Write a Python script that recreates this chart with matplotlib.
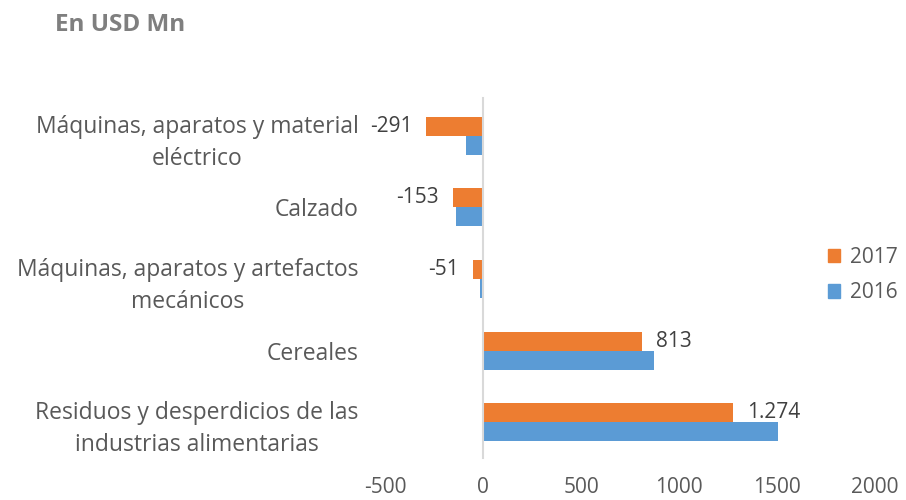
import matplotlib.pyplot as plt
import numpy as np
from matplotlib.patches import Patch

plt.rcParams['font.family'] = ['Open Sans', 'DejaVu Sans']
plt.rcParams['axes.unicode_minus'] = False

categories = [
    "Máquinas, aparatos y material\neléctrico",
    "Calzado",
    "Máquinas, aparatos y artefactos\nmecánicos",
    "Cereales",
    "Residuos y desperdicios de las\nindustrias alimentarias",
]
values_2017 = [-291, -153, -51, 813, 1274]
values_2016 = [-85, -140, -17, 871, 1502]
x_ticks = [-500, 0, 500, 1000, 1500, 2000]

ORANGE = "#ED7D31"
BLUE = "#5B9BD5"
TEXT = "#595959"

fig = plt.figure(figsize=(9.06, 5.0), dpi=100)
ax = fig.add_axes([0.425, 0.084, 0.541, 0.716])

y = np.arange(len(categories))
h = 0.266
bars17 = ax.barh(y - h / 2, values_2017, height=h, color=ORANGE)
ax.barh(y + h / 2, values_2016, height=h, color=BLUE)

labels = [f"{v:,}".replace(",", ".") for v in values_2017]
ax.bar_label(bars17, labels=labels, padding=10, fontsize=15, color="#404040")

ax.set_ylim(len(categories) - 0.5, -0.5)
ax.set_xlim(-500, 2000)
ax.set_xticks(x_ticks)
ax.set_yticks(y)
ax.set_yticklabels(categories)
for lbl in ax.get_yticklabels():
    lbl.set_multialignment("center")
    lbl.set_linespacing(1.45)

ax.tick_params(axis="x", length=0, pad=14, labelsize=15, labelcolor=TEXT)
ax.tick_params(axis="y", length=0, pad=19, labelsize=16.5, labelcolor=TEXT)
for s in ax.spines.values():
    s.set_visible(False)
ax.axvline(0, color="#d9d9d9", lw=1.5, ymin=0, ymax=1.005, clip_on=False)

handles = [Patch(color=ORANGE, label="2017"), Patch(color=BLUE, label="2016")]
leg = fig.legend(handles=handles, loc="center left", bbox_to_anchor=(0.893, 0.45),
                 frameon=False, fontsize=15, handlelength=0.6, handleheight=0.6,
                 handletextpad=0.45, labelspacing=0.7)
for t in leg.get_texts():
    t.set_color(TEXT)

fig.text(0.061, 0.95, "En USD Mn", fontsize=17.5, fontweight="bold", color="#7f7f7f",
         va="center", ha="left")

fig.savefig("out.png", dpi=100)
